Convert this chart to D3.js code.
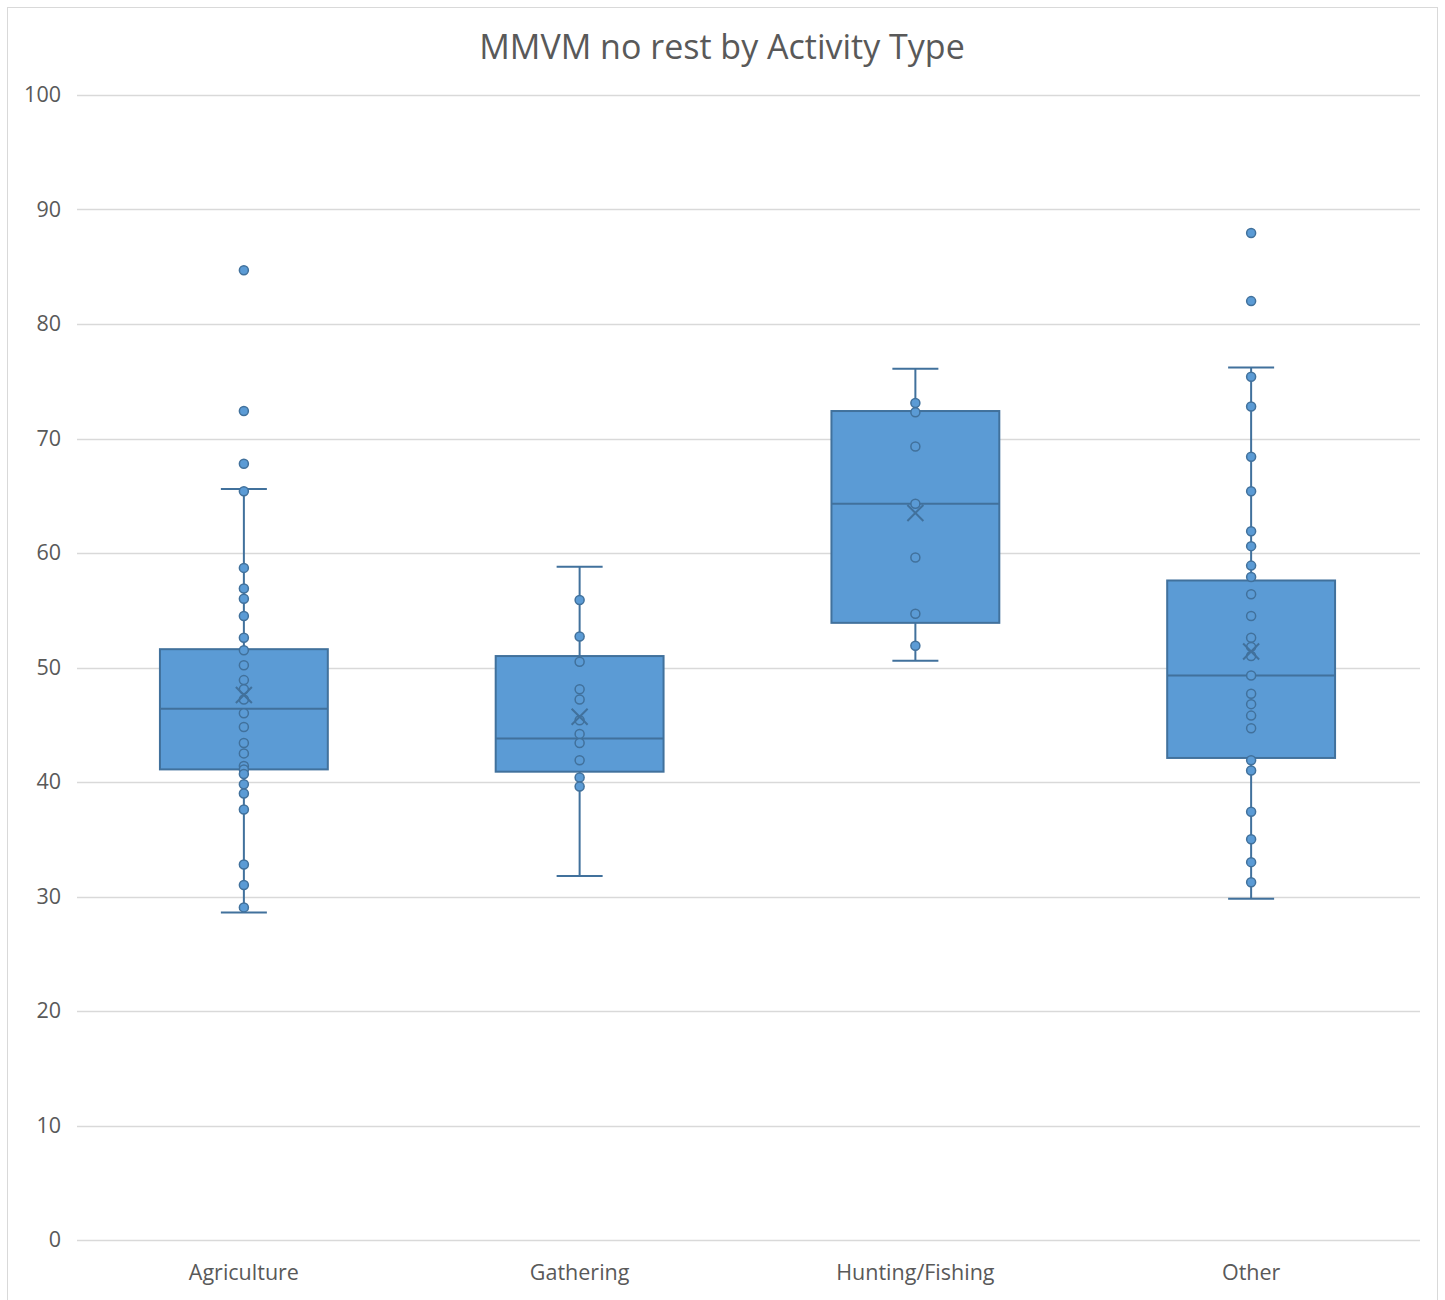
<!DOCTYPE html>
<html>
  <head>
    <meta charset="utf-8">
    <title>MMVM no rest by Activity Type</title>
    <script src="https://d3js.org/d3.v7.min.js"></script>
    <style>
      body { margin: 0; background: #fff; }
      text { font-family: "Open Sans", "Noto Sans", sans-serif; fill: #595959; }
    </style>
  </head>
  <body>
    <div id="chart"></div>
    <script>
      // Data
      var categories = ["Agriculture", "Gathering", "Hunting/Fishing", "Other"];

      var agriculturePoints = [84.7, 72.4, 67.8, 65.4, 58.7, 56.9, 56.0, 54.5, 52.6, 51.5, 50.2, 48.9, 48.1,
                               47.2, 46.0, 44.8, 43.4, 42.5, 41.4, 41.1, 40.7, 39.8, 39.0, 37.6, 32.8, 31.0, 29.05];
      var gatheringPoints = [55.9, 52.7, 50.5, 48.1, 47.2, 45.4, 44.2, 43.4, 41.9, 40.4, 39.6];
      var huntingPoints = [73.1, 72.3, 69.3, 64.3, 59.6, 54.7, 51.9];
      var otherPoints = [87.95, 82.0, 75.4, 72.8, 68.4, 65.4, 61.9, 60.6, 58.9, 57.9, 56.4, 54.5, 52.6, 51.8,
                         51.0, 49.3, 47.7, 46.8, 45.8, 44.7, 41.9, 41.0, 37.4, 35.0, 33.0, 31.25];

      var whiskerLow  = [28.6, 31.8, 50.6, 29.8];
      var quartile1   = [41.1, 40.9, 53.9, 42.1];
      var medians     = [46.4, 43.8, 64.3, 49.3];
      var quartile3   = [51.6, 51.0, 72.4, 57.6];
      var whiskerHigh = [65.6, 58.8, 76.1, 76.2];
      var means       = [47.6, 45.7, 63.5, 51.4];

      var yTicks = [0, 10, 20, 30, 40, 50, 60, 70, 80, 90, 100];

      var pointSets = [agriculturePoints, gatheringPoints, huntingPoints, otherPoints];
      var boxes = categories.map(function(c, i) {
        return {cat: c, lo: whiskerLow[i], q1: quartile1[i], med: medians[i], q3: quartile3[i],
                hi: whiskerHigh[i], mean: means[i], pts: pointSets[i]};
      });

      var W = 1445, H = 1300;
      var margin = {top: 95, right: 25, bottom: 60, left: 77};
      var width = W - margin.left - margin.right,
          height = 1240 - margin.top;

      var fill = "#5b9bd5", stroke = "#41719c";

      var root = d3.select("#chart").append("svg")
        .attr("width", W).attr("height", H);

      // outer chart frame
      root.append("rect")
        .attr("x", 7.5).attr("y", 7.5)
        .attr("width", 1430).attr("height", 1300)
        .attr("fill", "#fff").attr("stroke", "#d9d9d9");

      root.append("text")
        .attr("x", 722).attr("y", 59)
        .attr("text-anchor", "middle")
        .style("font-size", "34px")
        .text("MMVM no rest by Activity Type");

      var svg = root.append("g")
        .attr("transform", "translate(" + margin.left + "," + margin.top + ")");

      var x = d3.scaleBand().domain(categories).range([-1, width - 1]);
      var y = d3.scaleLinear().domain([0, 100]).range([height, 0]);

      // gridlines
      svg.append("g")
        .selectAll("line").data(yTicks).enter().append("line")
          .attr("x1", 0).attr("x2", width)
          .attr("y1", function(d) { return Math.round(y(d)) + 0.5; })
          .attr("y2", function(d) { return Math.round(y(d)) + 0.5; })
          .attr("stroke", "#d9d9d9").attr("stroke-width", 1.5);

      // y axis labels
      var yAxis = svg.append("g")
        .attr("transform", "translate(-16,0)")
        .call(d3.axisLeft(y).tickValues(yTicks).tickSize(0).tickPadding(0));
      yAxis.select(".domain").remove();
      yAxis.selectAll("text").style("font-size", "21.5px").attr("fill", "#595959")
        .style("font-family", "'Open Sans', sans-serif");

      // x axis labels
      var xAxis = svg.append("g")
        .attr("transform", "translate(0," + height + ")")
        .call(d3.axisBottom(x).tickSize(0).tickPadding(25));
      xAxis.select(".domain").remove();
      xAxis.selectAll("text").style("font-size", "21.5px").attr("fill", "#595959")
        .style("font-family", "'Open Sans', sans-serif");

      var boxW = x.bandwidth() * 0.5;
      var capW = 46;

      var g = svg.selectAll(".box").data(boxes).enter().append("g")
        .attr("transform", function(d) { return "translate(" + (x(d.cat) + x.bandwidth() / 2) + ",0)"; });

      // whiskers
      g.append("line")
        .attr("x1", 0).attr("x2", 0)
        .attr("y1", function(d) { return y(d.hi); })
        .attr("y2", function(d) { return y(d.lo); })
        .attr("stroke", stroke).attr("stroke-width", 2);
      g.append("line")
        .attr("x1", -capW / 2).attr("x2", capW / 2)
        .attr("y1", function(d) { return y(d.hi); })
        .attr("y2", function(d) { return y(d.hi); })
        .attr("stroke", stroke).attr("stroke-width", 2);
      g.append("line")
        .attr("x1", -capW / 2).attr("x2", capW / 2)
        .attr("y1", function(d) { return y(d.lo); })
        .attr("y2", function(d) { return y(d.lo); })
        .attr("stroke", stroke).attr("stroke-width", 2);

      // boxes
      g.append("rect")
        .attr("x", -boxW / 2).attr("width", boxW)
        .attr("y", function(d) { return y(d.q3); })
        .attr("height", function(d) { return y(d.q1) - y(d.q3); })
        .attr("fill", fill).attr("stroke", stroke).attr("stroke-width", 2);

      // median
      g.append("line")
        .attr("x1", -boxW / 2).attr("x2", boxW / 2)
        .attr("y1", function(d) { return y(d.med); })
        .attr("y2", function(d) { return y(d.med); })
        .attr("stroke", stroke).attr("stroke-width", 2);

      // points
      g.selectAll("circle").data(function(d) { return d.pts; }).enter().append("circle")
        .attr("cx", 0).attr("cy", function(d) { return y(d); })
        .attr("r", 4.5)
        .attr("fill", fill).attr("stroke", stroke).attr("stroke-width", 1.5);

      // mean marker
      var m = 8;
      g.append("path")
        .attr("d", function(d) {
          var cy = y(d.mean);
          return "M" + (-m) + "," + (cy - m) + "L" + m + "," + (cy + m) +
                 "M" + m + "," + (cy - m) + "L" + (-m) + "," + (cy + m);
        })
        .attr("stroke", stroke).attr("stroke-width", 2).attr("fill", "none");
    </script>
  </body>
</html>
